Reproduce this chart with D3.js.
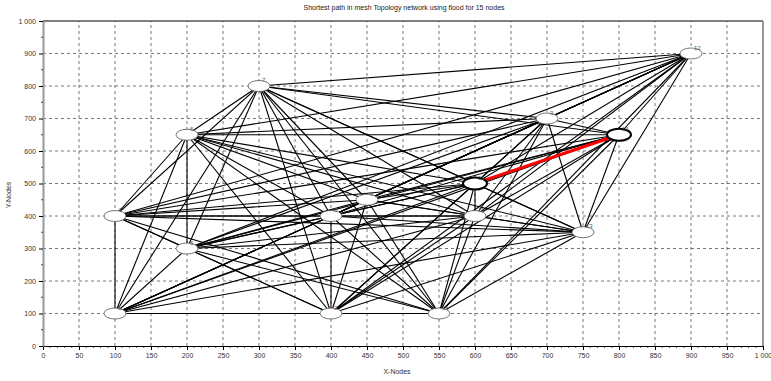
<!DOCTYPE html>
<html>
<head>
<meta charset="utf-8">
<script src="https://cdn.jsdelivr.net/npm/d3@7"></script>
<style>
  body { margin: 0; background: #fff; }
  svg { display: block; font-family: "Liberation Sans", Arial, sans-serif; }
</style>
</head>
<body>
<svg width="771" height="381"></svg>
<script>
// node ids, coordinates
var nodeIds = [1, 2, 3, 4, 5, 6, 7, 8, 9, 10, 11, 12, 13, 14, 15];
var nodeX   = [100, 400, 700, 100, 200, 200, 300, 400, 450, 600, 600, 900, 750, 800, 550];
var nodeY   = [100, 100, 700, 400, 300, 650, 800, 400, 450, 400, 500, 900, 350, 650, 100];

// mesh links: for each node, the higher-numbered nodes it connects to
var adjacency = {
  1:  [2, 3, 4, 5, 6, 7, 8, 9, 10, 11, 12, 13, 14, 15],
  2:  [3, 4, 5, 6, 7, 8, 9, 10, 11, 12, 13, 14, 15],
  3:  [4, 5, 6, 7, 8, 9, 10, 11, 12, 13, 14, 15],
  4:  [5, 6, 7, 8, 9, 10, 11, 12, 13, 14, 15],
  5:  [6, 7, 8, 9, 10, 11, 12, 13, 14, 15],
  6:  [7, 8, 9, 10, 11, 12, 13, 14, 15],
  7:  [8, 9, 10, 11, 12, 13, 14, 15],
  8:  [9, 10, 11, 12, 13, 14, 15],
  9:  [10, 11, 12, 13, 14, 15],
  10: [11, 12, 13, 14, 15],
  11: [12, 13, 14, 15],
  12: [13, 14, 15],
  13: [14, 15],
  14: [15]
};

// shortest path found by flood
var pathNodes = [11, 14];

var xTicks = [0, 50, 100, 150, 200, 250, 300, 350, 400, 450, 500, 550, 600, 650, 700, 750, 800, 850, 900, 950, 1000];
var yTicks = [0, 100, 200, 300, 400, 500, 600, 700, 800, 900, 1000];

var svg = d3.select("svg");

var x = d3.scaleLinear().domain([0, 1000]).range([43, 763]),
    y = d3.scaleLinear().domain([0, 1000]).range([346, 21]);

var fmt = function(d) { return d >= 1000 ? "1 000" : String(d); };

// grid
svg.append("g").selectAll("line")
  .data(xTicks.filter(function(d) { return d > 0 && d < 1000; }))
  .enter().append("line")
    .attr("x1", function(d) { return x(d); })
    .attr("x2", function(d) { return x(d); })
    .attr("y1", y(0)).attr("y2", y(1000))
    .attr("stroke", "#555").attr("stroke-width", 0.8)
    .attr("stroke-dasharray", "3,3");

svg.append("g").selectAll("line")
  .data(yTicks.filter(function(d) { return d > 0 && d < 1000; }))
  .enter().append("line")
    .attr("x1", x(0)).attr("x2", x(1000))
    .attr("y1", function(d) { return y(d); })
    .attr("y2", function(d) { return y(d); })
    .attr("stroke", "#555").attr("stroke-width", 0.8)
    .attr("stroke-dasharray", "3,3");

// frame
svg.append("line").attr("x1", x(0)).attr("x2", x(1000)).attr("y1", y(1000)).attr("y2", y(1000))
  .attr("stroke", "#000").attr("stroke-width", 1);
svg.append("line").attr("x1", x(1000)).attr("x2", x(1000)).attr("y1", y(0)).attr("y2", y(1000))
  .attr("stroke", "#999").attr("stroke-width", 2);

// axes
var xAxis = d3.axisBottom(x).tickValues(xTicks).tickFormat(fmt).tickSize(4).tickSizeOuter(0);
var gx = svg.append("g").attr("transform", "translate(0," + y(0) + ")").call(xAxis);
var yAxis = d3.axisLeft(y).tickValues(yTicks).tickFormat(fmt).tickSize(4).tickSizeOuter(0);
var gy = svg.append("g").attr("transform", "translate(" + x(0) + ",0)").call(yAxis);

// minor ticks
svg.append("g").selectAll("line")
  .data(d3.range(0, 1001, 10).filter(function(d) { return d % 50 != 0; }))
  .enter().append("line")
    .attr("x1", function(d) { return x(d); }).attr("x2", function(d) { return x(d); })
    .attr("y1", y(0)).attr("y2", y(0) + 2)
    .attr("stroke", "#000").attr("stroke-width", 0.7);
svg.append("g").selectAll("line")
  .data(d3.range(50, 1000, 100))
  .enter().append("line")
    .attr("x1", x(0) - 2).attr("x2", x(0))
    .attr("y1", function(d) { return y(d); }).attr("y2", function(d) { return y(d); })
    .attr("stroke", "#000").attr("stroke-width", 0.7);

[gx, gy].forEach(function(g) {
  g.selectAll("text").attr("font-size", 7).attr("fill", "#333").attr("font-family", "Liberation Sans, Arial, sans-serif");
  g.selectAll(".tick line").attr("stroke", "#000");
});
gx.select(".domain").attr("stroke", "#000");
gy.select(".domain").attr("stroke", "#999").attr("stroke-width", 2);

// links
var nodes = nodeIds.map(function(id, i) { return { id: id, x: nodeX[i], y: nodeY[i] }; });
var byId = {};
nodes.forEach(function(n) { byId[n.id] = n; });

var links = [];
Object.keys(adjacency).forEach(function(k) {
  adjacency[k].forEach(function(t) { links.push({ source: byId[+k], target: byId[t] }); });
});

svg.append("g").selectAll("line")
  .data(links)
  .enter().append("line")
    .attr("x1", function(d) { return x(d.source.x); })
    .attr("y1", function(d) { return y(d.source.y); })
    .attr("x2", function(d) { return x(d.target.x); })
    .attr("y2", function(d) { return y(d.target.y); })
    .attr("stroke", "#000").attr("stroke-width", 1.1);

var pathLinks = d3.pairs(pathNodes).map(function(p) { return { source: byId[p[0]], target: byId[p[1]] }; });
svg.append("g").selectAll("line")
  .data(pathLinks)
  .enter().append("line")
    .attr("x1", function(d) { return x(d.source.x); })
    .attr("y1", function(d) { return y(d.source.y); })
    .attr("x2", function(d) { return x(d.target.x); })
    .attr("y2", function(d) { return y(d.target.y); })
    .attr("stroke", "#f00").attr("stroke-width", 3.2);

// nodes
var onPath = function(d) { return pathNodes.indexOf(d.id) >= 0; };
svg.append("g").selectAll("ellipse")
  .data(nodes)
  .enter().append("ellipse")
    .attr("cx", function(d) { return x(d.x); })
    .attr("cy", function(d) { return y(d.y); })
    .attr("rx", function(d) { return onPath(d) ? 12 : 11; })
    .attr("ry", function(d) { return onPath(d) ? 6 : 5.5; })
    .attr("fill", "#fff")
    .attr("stroke", function(d) { return onPath(d) ? "#000" : "#555"; })
    .attr("stroke-width", function(d) { return onPath(d) ? 2 : 0.8; });

svg.append("g").selectAll("text")
  .data(nodes)
  .enter().append("text")
    .attr("x", function(d) { return x(d.x) + 3; })
    .attr("y", function(d) { return y(d.y) - 4; })
    .attr("font-size", 6).attr("fill", "#555")
    .text(function(d) { return d.id; });

// titles
svg.append("text").attr("x", 404).attr("y", 10).attr("text-anchor", "middle")
  .attr("font-size", 7).attr("fill", "#222")
  .text("Shortest path in mesh Topology network using flood for 15 nodes");
svg.append("text").attr("x", 397).attr("y", 374).attr("text-anchor", "middle")
  .attr("font-size", 7).attr("fill", "#333").text("X-Nodes");
svg.append("text").attr("transform", "translate(11,195) rotate(-90)").attr("text-anchor", "middle")
  .attr("font-size", 7).attr("fill", "#333").text("Y-Nodes");
</script>
</body>
</html>
